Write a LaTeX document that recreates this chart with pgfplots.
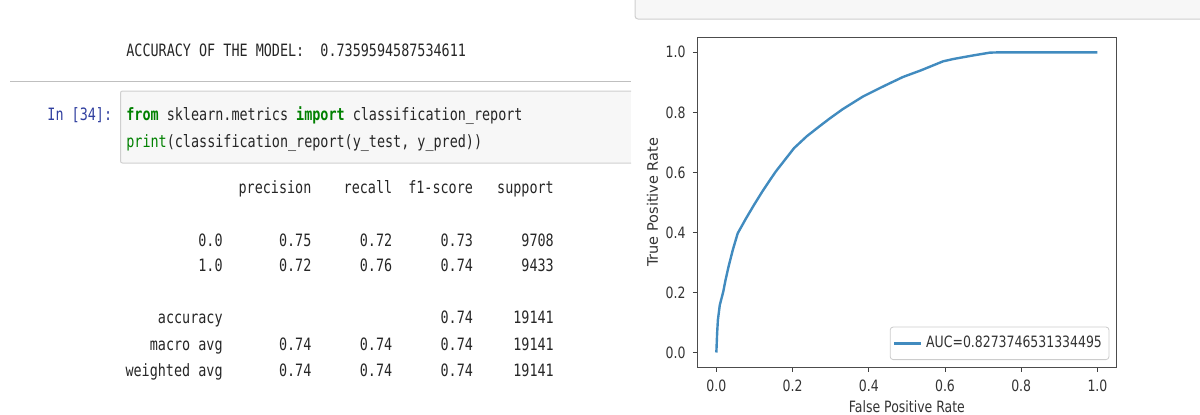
\documentclass[border=0pt]{standalone}
\usepackage{pgfplots}
\pgfplotsset{compat=1.18}
\usepackage{fontspec}
\setmainfont{DejaVu Sans}
\newfontfamily\codefont[FakeStretch=0.79]{DejaVu Sans Mono}
\newfontfamily\mplfont[FakeStretch=0.8]{DejaVu Sans}
\newfontfamily\mplfontr{DejaVu Sans}
\definecolor{kwgreen}{HTML}{008000}
\definecolor{prompt}{HTML}{303F9F}
\definecolor{cellbg}{HTML}{F7F7F7}
\definecolor{cellbd}{HTML}{CFCFCF}
\definecolor{mplblue}{HTML}{1F77B4}
\newcommand\cf{\codefont\fontsize{8.5}{10}\selectfont}
\newcommand\mf{\mplfont\fontsize{7.8}{9}\selectfont}
\begin{document}
\begin{tikzpicture}
\begin{scope}[x=0.5pt,y=-0.5pt]
\useasboundingbox (0,0) rectangle (1200,414);
% top-right cell edge
\draw[cellbd, fill=cellbg, rounded corners=1.5pt, line width=0.5pt] (1205,-5) -- (635,-5) -- (635,19) -- (1205,19);
% separator
\draw[black!25, line width=0.5pt] (10,81) -- (631,81);
% input cell
\fill[cellbg] (120.5,91) rectangle (631,163);
\draw[cellbd, line width=0.5pt, rounded corners=1pt] (631,91) -- (120.5,91) -- (120.5,163) -- (631,163);
% texts
\node[anchor=base west, inner sep=0pt, text=black!85] at (126,56.7) {\cf ACCURACY OF THE MODEL:\ \ 0.7359594587534611};
\node[anchor=base east, inner sep=0pt, text=prompt] at (112.5,120) {\cf In [34]:};
\node[anchor=base west, inner sep=0pt, text=black!85] at (126,120) {\cf {\bfseries\color{kwgreen}from} sklearn.metrics {\bfseries\color{kwgreen}import} classification\_report};
\node[anchor=base west, inner sep=0pt, text=black!85] at (126,147) {\cf {\color{kwgreen}print}(classification\_report(y\_test, y\_pred))};
% table
\foreach \t/\x/\y in {precision/311.8/193, recall/392.6/193, f1-score/473.4/193, support/554.2/193,
  0.0/223/246.7, 0.75/311.8/246.7, 0.72/392.6/246.7, 0.73/473.4/246.7, 9708/554.2/246.7,
  1.0/223/271.7, 0.72/311.8/271.7, 0.76/392.6/271.7, 0.74/473.4/271.7, 9433/554.2/271.7,
  accuracy/223/323.3, 0.74/473.4/323.3, 19141/554.2/323.3,
  macro avg/223/350, 0.74/311.8/350, 0.74/392.6/350, 0.74/473.4/350, 19141/554.2/350,
  weighted avg/223/376.7, 0.74/311.8/376.7, 0.74/392.6/376.7, 0.74/473.4/376.7, 19141/554.2/376.7}
  {\node[anchor=base east, inner sep=0pt, text=black!85] at (\x,\y) {\cf \t};}
\end{scope}
\begin{axis}[
  at={(348.65pt,-183.75pt)}, anchor=south west,
  scale only axis, width=209.6pt, height=165.1pt,
  xmin=-0.05, xmax=1.05, ymin=-0.05, ymax=1.05,
  xtick={0,0.2,0.4,0.6,0.8,1}, xticklabels={0.0,0.2,0.4,0.6,0.8,1.0},
  ytick={0,0.2,0.4,0.6,0.8,1}, yticklabels={0.0,0.2,0.4,0.6,0.8,1.0},
  tick align=outside, tick pos=left, major tick length=2.2pt,
  tick style={black!75, line width=0.5pt},
  axis line style={black!70, line width=0.65pt},
  ticklabel style={font=\mf, text=black!80, inner sep=0pt},
  xticklabel style={anchor=north, yshift=-4pt},
  yticklabel style={anchor=east, xshift=-3.5pt},
  xlabel={False Positive Rate}, ylabel={True Positive Rate},
  xlabel style={at={(axis description cs:0.5,-0.1348)}, anchor=base, inner sep=0pt, font=\mf, text=black!80},
  ylabel style={at={(axis description cs:-0.094,0.5)}, anchor=base, inner sep=0pt, rotate=0, font=\mplfontr\fontsize{7.25}{8.5}\selectfont, text=black!80},
  legend style={at={(axis description cs:0.983,0.0227)}, anchor=south east, draw=black!20, rounded corners=1.5pt, fill=white, font=\mf, text=black!80, inner xsep=1.5pt, inner ysep=2.5pt},
  legend cell align=left,
  legend image code/.code={\draw[#1] (0pt,0pt) -- (13.3pt,0pt);},
]
\addplot[mplblue!85!white, line width=1.2pt, line join=round] coordinates {
(0,0) (0.002,0.063) (0.004,0.108) (0.009,0.158) (0.018,0.202) (0.024,0.241)
(0.032,0.286) (0.043,0.341) (0.056,0.397) (0.078,0.447) (0.099,0.492)
(0.120,0.535) (0.142,0.577) (0.156,0.603) (0.180,0.642) (0.204,0.681)
(0.237,0.720) (0.270,0.753) (0.299,0.781) (0.332,0.811) (0.385,0.853)
(0.442,0.889) (0.490,0.918) (0.537,0.940) (0.595,0.970) (0.623,0.978)
(0.671,0.989) (0.718,0.999) (0.747,1.0) (1.0,1.0)
};
\addlegendentry{AUC=0.8273746531334495}
\end{axis}
\end{tikzpicture}
\end{document}
